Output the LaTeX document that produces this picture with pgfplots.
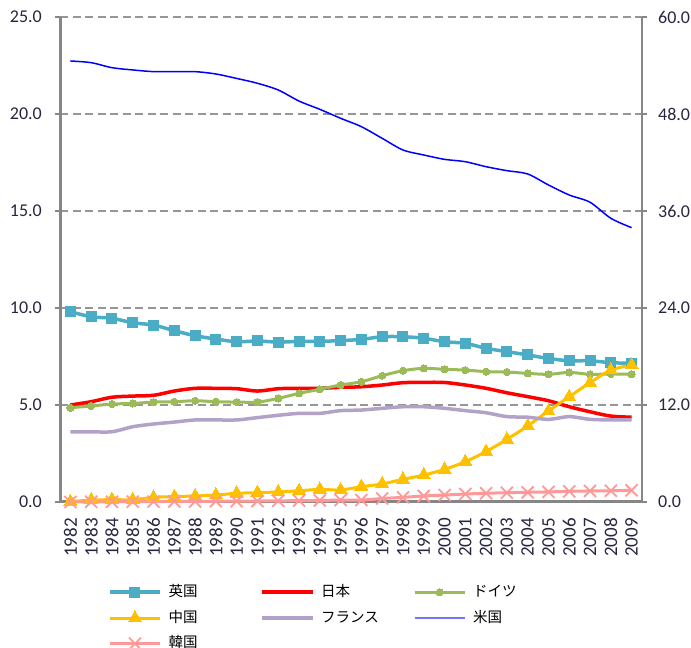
\documentclass[border=0pt]{standalone}
\usepackage{fontspec}
\setmainfont{Carlito}
\newfontfamily\cjk{Noto Sans CJK JP}
\usepackage{pgfplots}
\usepackage{pgfplotstable}
\pgfplotsset{compat=1.18}

\definecolor{ukc}{HTML}{4BACC6}
\definecolor{jpc}{HTML}{FF0000}
\definecolor{dec}{HTML}{9BBB59}
\definecolor{cnc}{HTML}{FFC000}
\definecolor{frc}{HTML}{B3A2C7}
\definecolor{usc}{HTML}{0000FF}
\definecolor{krc}{HTML}{FF9999}
\definecolor{axgray}{HTML}{868686}
\definecolor{gridgray}{HTML}{969696}
\definecolor{tlc}{HTML}{262640}

% share values; US is read against the right axis (0-60)
\pgfplotstableread{
year UK   JP   DE   CN   FR   US    KR
1982 9.81 5.00 4.86 0.02 3.62 54.56 0.00
1983 9.55 5.17 4.95 0.10 3.62 54.35 0.01
1984 9.47 5.40 5.05 0.12 3.62 53.73 0.01
1985 9.24 5.46 5.08 0.12 3.88 53.45 0.02
1986 9.12 5.50 5.15 0.24 4.02 53.24 0.02
1987 8.83 5.72 5.17 0.28 4.12 53.24 0.03
1988 8.57 5.86 5.22 0.31 4.23 53.24 0.03
1989 8.40 5.86 5.17 0.36 4.23 52.95 0.04
1990 8.26 5.84 5.15 0.45 4.23 52.40 0.04
1991 8.30 5.72 5.15 0.48 4.35 51.80 0.05
1992 8.24 5.84 5.34 0.52 4.47 50.97 0.06
1993 8.28 5.86 5.60 0.58 4.57 49.60 0.07
1994 8.28 5.86 5.81 0.65 4.57 48.58 0.08
1995 8.32 5.91 6.03 0.62 4.71 47.47 0.10
1996 8.38 5.94 6.20 0.79 4.74 46.43 0.10
1997 8.52 6.03 6.51 0.93 4.83 44.99 0.18
1998 8.52 6.15 6.77 1.17 4.91 43.55 0.24
1999 8.44 6.17 6.89 1.39 4.91 42.93 0.31
2000 8.26 6.16 6.84 1.68 4.83 42.39 0.36
2001 8.18 6.03 6.80 2.08 4.71 42.10 0.41
2002 7.92 5.86 6.72 2.60 4.60 41.48 0.45
2003 7.75 5.63 6.70 3.23 4.40 40.99 0.48
2004 7.58 5.43 6.63 3.92 4.37 40.58 0.50
2005 7.40 5.22 6.58 4.69 4.26 39.22 0.52
2006 7.28 4.91 6.68 5.43 4.40 37.98 0.55
2007 7.28 4.65 6.58 6.15 4.26 37.08 0.57
2008 7.18 4.43 6.60 6.80 4.23 35.10 0.58
2009 7.15 4.37 6.58 7.06 4.23 33.94 0.60
}\shares

\begin{document}
\begin{tikzpicture}[x=1pt,y=1pt]
\useasboundingbox (0,0) rectangle (691,648);
\pgfplotsset{
  base/.style={
    scale only axis, width=582pt, height=485pt,
    at={(60pt,146pt)}, anchor=south west,
    xmin=1981.5, xmax=2009.5,
    clip=false,
    tick align=outside, major tick length=5pt,
    tick style={draw=axgray, line width=1.5pt},
    tick label style={text=tlc, font=\fontsize{18}{20}\selectfont},
    /pgf/number format/assume math mode=true,
    yticklabel={\pgfmathprintnumber[fixed,fixed zerofill,precision=1]{\tick}},
  },
}
\begin{axis}[base,
  ymin=0, ymax=25, ytick={0,5,...,25},
  axis x line*=bottom, axis y line*=left,
  x axis line style={-, draw=axgray, line width=3pt},
  y axis line style={-, draw=axgray, line width=3pt},
  xtick={1982,...,2009}, xtick style={draw=none},
  xticklabel={\pgfmathprintnumber[fixed,precision=0,1000 sep={}]{\tick}},
  xticklabel style={rotate=90, anchor=east, inner sep=0pt, font=\fontsize{19}{20}\selectfont},
  xticklabel shift=11pt,
  yticklabel style={inner sep=0pt}, yticklabel shift=13pt,
  ymajorgrids, grid style={gridgray, line width=1.8pt, dash pattern=on 8pt off 4.5pt},
  legend columns=3, legend cell align=left,
  legend style={draw=none, fill=none, at={(0.0825,-0.171)}, anchor=north west,
    font=\cjk\fontsize{14.5}{16}\selectfont, text=black,
    column sep=7pt, row sep=11.5pt, inner sep=0pt,
    nodes={inner sep=0pt, text height=11pt, text depth=3pt}},
  legend image code/.code={\draw[mark repeat=2,mark phase=2,#1]
    plot coordinates {(0pt,0pt) (25pt,0pt) (50pt,0pt)};},
]
\addplot[ukc, line width=3.5pt, smooth, mark=square*, mark size=5pt,
  mark options={solid, line width=0pt}] table[x=year,y=UK]{\shares};
\addlegendentry{\makebox[85pt][l]{英国}}
\addplot[jpc, line width=3.5pt, smooth] table[x=year,y=JP]{\shares};
\addlegendentry{\makebox[85pt][l]{日本}}
\addplot[dec, line width=3pt, smooth, mark=*, mark size=3.6pt,
  mark options={solid, line width=0pt}] table[x=year,y=DE]{\shares};
\addlegendentry{\makebox[85pt][l]{ドイツ}}
\addplot[cnc, line width=3pt, smooth, mark=triangle*, mark size=7.5pt,
  mark options={solid, line width=0pt}] table[x=year,y=CN]{\shares};
\addlegendentry{\makebox[85pt][l]{中国}}
\addplot[frc, line width=3.5pt, smooth] table[x=year,y=FR]{\shares};
\addlegendentry{\makebox[85pt][l]{フランス}}
\addlegendimage{usc!55, line width=2pt}
\addlegendentry{\makebox[85pt][l]{米国}}
\addplot[krc, line width=3pt, smooth, mark=x, mark size=8.5pt,
  mark options={solid, line width=1.8pt}] table[x=year,y=KR]{\shares};
\addlegendentry{\makebox[85pt][l]{韓国}}
\end{axis}
\begin{axis}[base,
  ymin=0, ymax=60, ytick={0,12,...,60},
  axis x line=none, axis y line*=right,
  y axis line style={-, draw=axgray, line width=2.5pt},
  yticklabel style={inner sep=0pt}, yticklabel shift=11pt,
]
\addplot[usc, line width=1.5pt, smooth] table[x=year,y=US]{\shares};
\end{axis}
\end{tikzpicture}
\end{document}
